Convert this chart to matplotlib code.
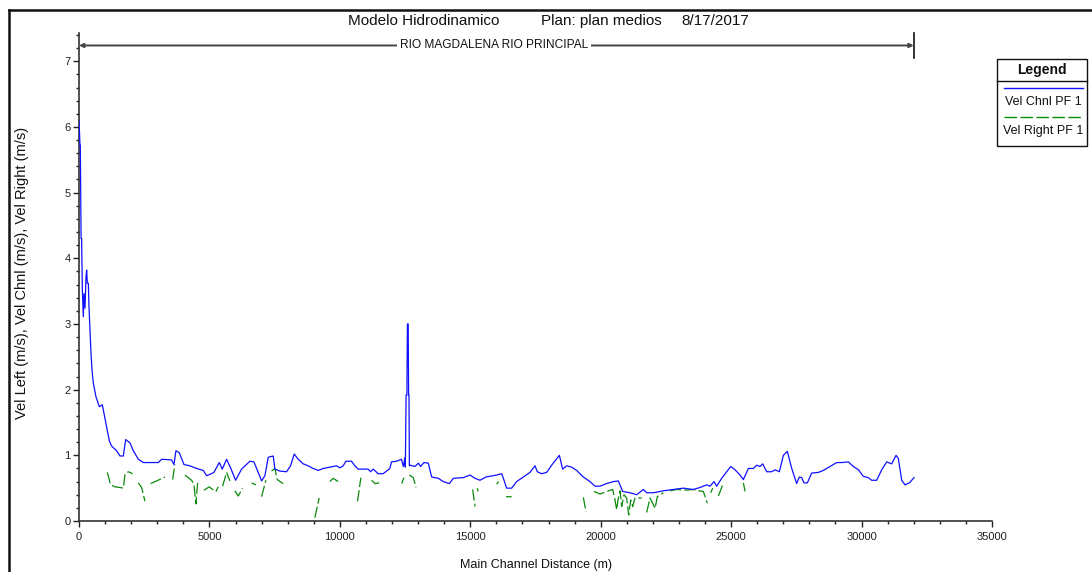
import numpy as np
import matplotlib
matplotlib.use("Agg")
import matplotlib.pyplot as plt
from matplotlib.lines import Line2D
from matplotlib.patches import Rectangle

plt.rcParams['font.family'] = ['Liberation Sans', 'DejaVu Sans']

# ---------------- data ----------------
chnl_dist = [0, 38, 50, 64, 80, 100, 128, 166, 192, 230, 268, 294, 319, 358, 383, 422, 460, 498, 549, 651,
             779, 894, 996, 1162, 1252, 1443, 1571, 1700, 1788, 1954, 2082, 2273, 2465, 2567, 3040, 3167,
             3550, 3640, 3716, 3844, 4023, 4253, 4508, 4764, 4891, 5019, 5172, 5377, 5492, 5658, 5811,
             6003, 6233, 6552, 6705, 6871, 6999, 7127, 7254, 7446, 7510, 7701, 7957, 8110, 8250, 8404,
             8595, 8787, 8978, 9170, 9362, 9617, 9872, 10000, 10128, 10230, 10447, 10575, 10702, 11086,
             11175, 11277, 11469, 11660, 11916, 11980, 12171, 12363, 12433, 12491, 12510, 12540, 12570,
             12590, 12620, 12635, 12650, 12665, 12688, 12880, 13008, 13097, 13225, 13391, 13519, 13775,
             13966, 14196, 14350, 14733, 14989, 15181, 15372, 15602, 16011, 16203, 16267, 16395, 16586,
             16778, 17034, 17289, 17481, 17570, 17736, 17928, 18120, 18414, 18541, 18695, 18886, 19078,
             19334, 19589, 19781, 19973, 20228, 20484, 20676, 20842, 21123, 21379, 21634, 21762, 22018,
             22401, 22785, 23168, 23551, 23807, 24063, 24190, 24344, 24446, 24638, 24983, 25149, 25341,
             25469, 25660, 25852, 25980, 26108, 26210, 26363, 26555, 26683, 26849, 27002, 27155, 27322,
             27512, 27614, 27704, 27794, 27921, 28087, 28343, 28535, 28790, 29046, 29238, 29493, 29685,
             29877, 30068, 30260, 30388, 30580, 30771, 30963, 31155, 31321, 31410, 31538, 31666, 31832,
             32011]
chnl_vel = [6.10, 5.72, 5.72, 5.04, 4.30, 4.30, 3.52, 3.11, 3.46, 3.24, 3.72, 3.82, 3.62, 3.62, 3.26, 2.91,
            2.55, 2.30, 2.10, 1.89, 1.74, 1.77, 1.56, 1.22, 1.14, 1.07, 0.99, 0.99, 1.24, 1.19, 1.07, 0.94,
            0.89, 0.89, 0.89, 0.94, 0.93, 0.86, 1.07, 1.04, 0.86, 0.84, 0.80, 0.77, 0.69, 0.71, 0.74, 0.89,
            0.79, 0.94, 0.81, 0.62, 0.79, 0.91, 0.90, 0.74, 0.61, 0.69, 0.97, 0.99, 0.79, 0.76, 0.75, 0.84,
            1.02, 0.94, 0.87, 0.84, 0.80, 0.77, 0.80, 0.82, 0.84, 0.81, 0.84, 0.91, 0.91, 0.84, 0.79, 0.79,
            0.75, 0.79, 0.72, 0.72, 0.80, 0.90, 0.91, 0.94, 0.83, 0.96, 0.82, 1.92, 1.92, 3.00, 3.00, 1.92,
            1.92, 0.84, 0.85, 0.83, 0.88, 0.83, 0.89, 0.88, 0.67, 0.65, 0.60, 0.57, 0.65, 0.66, 0.70, 0.65,
            0.62, 0.67, 0.70, 0.72, 0.65, 0.50, 0.50, 0.60, 0.67, 0.74, 0.84, 0.75, 0.72, 0.74, 0.85, 1.00,
            0.79, 0.84, 0.82, 0.77, 0.67, 0.60, 0.53, 0.53, 0.57, 0.60, 0.61, 0.45, 0.43, 0.40, 0.48, 0.43,
            0.43, 0.46, 0.48, 0.50, 0.48, 0.51, 0.55, 0.53, 0.60, 0.53, 0.65, 0.83, 0.78, 0.70, 0.63, 0.80,
            0.80, 0.85, 0.83, 0.87, 0.75, 0.75, 0.78, 0.75, 1.00, 1.06, 0.80, 0.57, 0.67, 0.66, 0.58, 0.58,
            0.73, 0.74, 0.77, 0.83, 0.89, 0.89, 0.90, 0.83, 0.78, 0.68, 0.66, 0.62, 0.62, 0.78, 0.90, 0.87,
            1.00, 0.95, 0.62, 0.55, 0.58, 0.66]

nan = np.nan
right_dist = [1086, 1213, 1379, 1571, 1700, 1762, 1890, 2056, nan,
              2273, 2401, 2529, nan,
              2746, 2976, 3295, nan,
              3588, 3678, nan,
              4061, 4316, 4406, 4482, 4546, nan,
              4789, 4993, 5121, 5249, 5338, nan,
              5504, 5658, 5785, nan,
              5977, 6105, 6270, nan,
              6615, 6781, nan,
              6998, 7165, nan,
              7381, 7510, 7598, 7828, nan,
              9041, 9207, nan,
              9617, 9744, 9935, nan,
              10677, 10805, nan,
              11214, 11342, 11508, nan,
              12369, 12458, nan,
              12663, 12816, 12918, nan,
              15091, 15181, nan,
              15270, 15300, nan,
              16011, 16088, nan,
              16369, 16586, nan,
              19334, 19436, nan,
              19743, 19973, 20228, 20458, 20548, 20612, 20676, 20740, 20804, 20893, 20995, 21072,
              21149, 21225, 21315, 21571, nan,
              21762, 21890, 21992, 22082, 22171, 22401, nan,
              22657, 22912, 23296, 23551, 23743, 23935, 24088, nan,
              24216, 24293, nan,
              24510, 24676, nan,
              25469, 25533]
right_vel = [0.74, 0.55, 0.52, 0.51, 0.50, 0.71, 0.75, 0.72, nan,
             0.58, 0.51, 0.30, nan,
             0.57, 0.61, 0.67, nan,
             0.63, 0.86, nan,
             0.70, 0.62, 0.56, 0.26, 0.58, nan,
             0.47, 0.52, 0.48, 0.45, 0.52, nan,
             0.53, 0.74, 0.61, nan,
             0.46, 0.38, 0.50, nan,
             0.58, 0.55, nan,
             0.37, 0.62, nan,
             0.76, 0.80, 0.63, 0.57, nan,
             0.05, 0.35, nan,
             0.60, 0.65, 0.60, nan,
             0.30, 0.66, nan,
             0.62, 0.57, 0.58, nan,
             0.57, 0.66, nan,
             0.70, 0.66, 0.51, nan,
             0.48, 0.22, nan,
             0.50, 0.45, nan,
             0.56, 0.60, nan,
             0.37, 0.37, nan,
             0.36, 0.14, nan,
             0.45, 0.41, 0.45, 0.48, 0.32, 0.17, 0.35, 0.46, 0.22, 0.40, 0.35, 0.09,
             0.32, 0.22, 0.35, 0.35, nan,
             0.13, 0.35, 0.27, 0.19, 0.37, 0.43, nan,
             0.46, 0.48, 0.47, 0.48, 0.46, 0.45, 0.27, nan,
             0.43, 0.50, nan,
             0.38, 0.55, nan,
             0.58, 0.45]

x_ticks = [0, 5000, 10000, 15000, 20000, 25000, 30000, 35000]
y_ticks = [0, 1, 2, 3, 4, 5, 6, 7]

reach_start, reach_end = 0, 32000
reach_label_pos = 15900
reach_name = "RIO MAGDALENA RIO PRINCIPAL"

BLUE = '#1010ff'
GREEN = '#0a8a0a'
W, H = 1092, 572

def fx(px):
    return px / W

def fy(py):
    return 1 - py / H

fig = plt.figure(figsize=(W / 100, H / 100), dpi=100)
ax = fig.add_axes([fx(79), fy(521), fx(992) - fx(79), fy(33) - fy(521)])

ax.plot(chnl_dist, chnl_vel, color=BLUE, lw=0.9, zorder=3)
ax.plot(right_dist, right_vel, color=GREEN, lw=0.9, linestyle=(0, (9, 2.5)), zorder=2)

ax.set_xlim(0, 35000)
ax.set_ylim(0, 7.43)
ax.set_xticks(x_ticks)
ax.set_yticks(y_ticks)
ax.set_xticks(np.arange(0, 35001, 1000), minor=True)
ax.set_yticks(np.arange(0, 7.41, 0.2), minor=True)
ax.tick_params(axis='both', which='major', length=4, width=1, labelsize=8, colors='#222222', pad=2)
ax.tick_params(axis='x', which='major', pad=4)
ax.tick_params(axis='both', which='minor', length=2.5, width=1, colors='#222222')
for s in ['top', 'right']:
    ax.spines[s].set_visible(False)
for s in ['left', 'bottom']:
    ax.spines[s].set_color('#333333')
    ax.spines[s].set_linewidth(1.2)

# reach arrow
y_arrow = 7.24
ax.annotate('', xy=(reach_start, y_arrow), xytext=(reach_end, y_arrow),
            arrowprops=dict(arrowstyle='<|-|>', color='#444444', lw=1.4,
                            mutation_scale=6, shrinkA=0, shrinkB=0), annotation_clip=False)
ax.plot([reach_end, reach_end], [7.05, 7.43], color='#111111', lw=1.2, clip_on=False)
ax.text(reach_label_pos, y_arrow, reach_name, ha='center', va='center',
        fontsize=8.6, color='#111111',
        bbox=dict(facecolor='white', edgecolor='none', pad=2))

ax.set_xlabel('Main Channel Distance (m)', fontsize=9, labelpad=12, color='#111111')
fig.text(fx(22), fy(273), 'Vel Left (m/s), Vel Chnl (m/s), Vel Right (m/s)', rotation=90,
         ha='center', va='center', fontsize=10.5, color='#111111')

# title
fig.text(fx(348), fy(21), 'Modelo Hidrodinamico', ha='left', va='center', fontsize=11, color='#111111')
fig.text(fx(541), fy(21), 'Plan: plan medios', ha='left', va='center', fontsize=11, color='#111111')
fig.text(fx(681), fy(21), '8/17/2017', ha='left', va='center', fontsize=11, color='#111111')

# figure frame (top and left visible)
fig.add_artist(Line2D([fx(9), fx(1092)], [fy(10), fy(10)], color='#111111', lw=1.8))
fig.add_artist(Line2D([fx(9), fx(9)], [fy(10), fy(572)], color='#111111', lw=1.8))

# legend box
fig.add_artist(Rectangle((fx(997), fy(146)), fx(1087) - fx(997), fy(59) - fy(146),
                         facecolor='white', edgecolor='#111111', lw=1.0, transform=fig.transFigure))
fig.add_artist(Line2D([fx(997), fx(1087)], [fy(81), fy(81)], color='#111111', lw=1.0))
fig.text(fx(1042), fy(70), 'Legend', ha='center', va='center', fontsize=10, fontweight='bold', color='#111111')
fig.add_artist(Line2D([fx(1004), fx(1083)], [fy(88), fy(88)], color=BLUE, lw=1.0))
fig.text(fx(1043), fy(102), 'Vel Chnl PF 1', ha='center', va='center', fontsize=9, color='#111111')
fig.add_artist(Line2D([fx(1004), fx(1083)], [fy(117), fy(117)], color=GREEN, lw=1.0,
                      linestyle=(0, (9, 2.5))))
fig.text(fx(1043), fy(131), 'Vel Right PF 1', ha='center', va='center', fontsize=9, color='#111111')

fig.savefig('out.png', dpi=100)
